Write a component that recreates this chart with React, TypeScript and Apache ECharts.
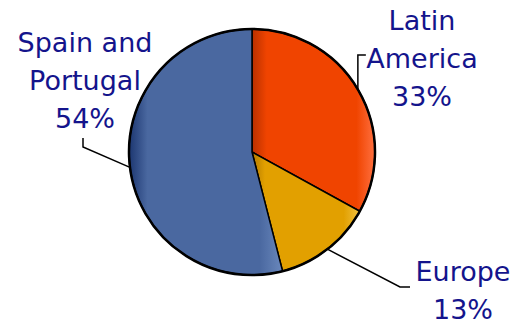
import React, { useEffect, useRef } from "react";
import * as echarts from "echarts";

const categories = ["Latin\nAmerica", "Europe", "Spain and\nPortugal"];
const values = [33, 13, 54];
const baseColors = ["#F04400", "#E2A000", "#4A68A0"];
const darkColors = ["#B83000", "#B07800", "#1C3670"];
const lightColors = ["#FF7040", "#F0C040", "#6A88BC"];

// label anchor (centre of text block) per slice
const labelPos: [number, number][] = [
  [422, 58],
  [463, 290],
  [85, 80],
];

export default function App() {
  const ref = useRef<HTMLDivElement>(null);
  useEffect(() => {
    if (!ref.current) return;
    const chart = echarts.init(ref.current, null, { renderer: "svg" });
    const data = values.map((v, i) => ({
      name: categories[i],
      value: v,
      itemStyle: {
        color: new echarts.graphic.LinearGradient(0, 0, 1, 0, [
          { offset: 0, color: darkColors[i] },
          { offset: 0.12, color: baseColors[i] },
          { offset: 0.85, color: baseColors[i] },
          { offset: 1, color: lightColors[i] },
        ]),
      },
    }));
    chart.setOption({
      animation: false,
      backgroundColor: "#ffffff",
      series: [
        {
          type: "pie",
          center: [252, 152],
          radius: 123,
          startAngle: 90,
          clockwise: true,
          data,
          itemStyle: { borderColor: "#000", borderWidth: 1.5 },
          label: {
            show: true,
            formatter: "{b}\n{d}%",
            color: "#14148C",
            fontFamily: "DejaVu Sans",
            fontSize: 27,
            lineHeight: 38,
            align: "center",
            overflow: "none",
            width: 200,
          },
          labelLine: {
            show: true,
            lineStyle: { color: "#000", width: 1.5 },
            length: 10,
            length2: 10,
          },
          labelLayout: (params: any) => {
            const i = params.dataIndex;
            const pts = params.labelLinePoints;
            const start = pts ? pts[0] : [0, 0];
            let line: number[][];
            if (i === 0) {
              line = [start, [start[0], 55], [start[0] + 8, 55]];
            } else if (i === 1) {
              line = [start, [400, 287], [410, 287]];
            } else {
              line = [start, [83, 147], [83, 138]];
            }
            return {
              x: labelPos[i][0],
              y: labelPos[i][1],
              align: "center",
              verticalAlign: "middle",
              labelLinePoints: line,
            };
          },
          emphasis: { disabled: true },
        },
        {
          type: "pie",
          center: [252, 152],
          radius: 123,
          silent: true,
          data: [{ value: 1, name: "rim" }],
          itemStyle: { color: "rgba(0,0,0,0)", borderColor: "#000", borderWidth: 2.5 },
          label: { show: false },
          labelLine: { show: false },
          emphasis: { disabled: true },
        },
      ],
    });
    return () => chart.dispose();
  }, []);
  return (
    <div
      ref={ref}
      style={{ position: "fixed", left: 0, top: 0, width: 516, height: 323 }}
    />
  );
}
